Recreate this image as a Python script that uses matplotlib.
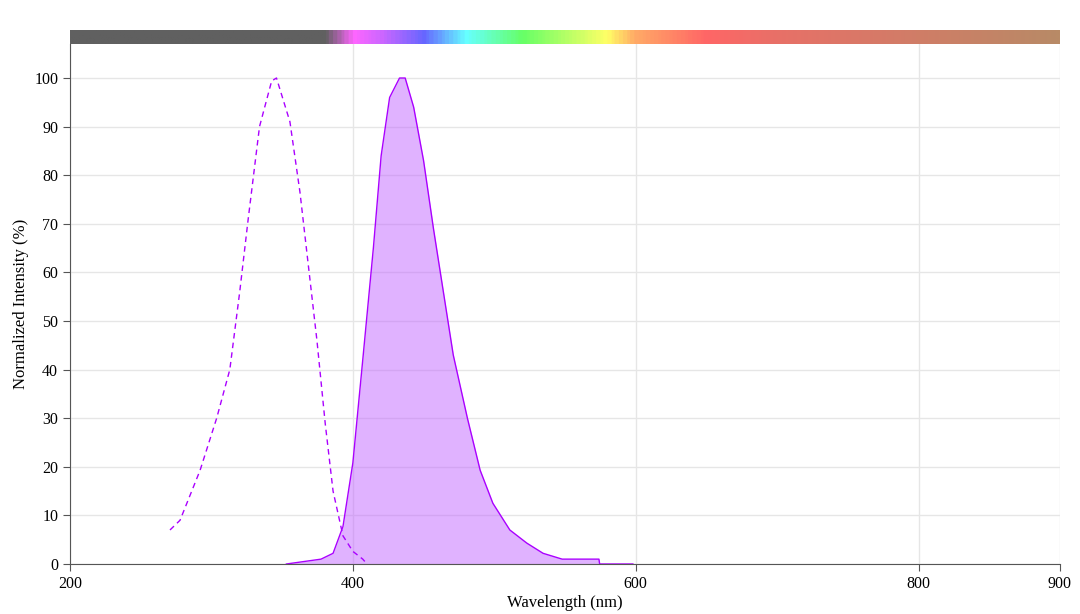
import numpy as np
import matplotlib
matplotlib.use("Agg")
import matplotlib.pyplot as plt
from matplotlib.colors import LinearSegmentedColormap

plt.rcParams["font.family"] = ["Liberation Serif", "DejaVu Serif"]

# excitation spectrum (dashed)
ex_nm = [270.7, 277.8, 292, 303.7, 313, 320, 326, 334, 342.6, 346, 355.5, 362.6,
         368.5, 374.6, 380.5, 386, 393, 400, 407, 410]
ex_val = [7, 9, 19.3, 30, 40, 56, 71, 90, 99.4, 100, 91, 76.5,
          61.5, 46, 28.8, 15, 5.8, 2.6, 1, 0]

# emission spectrum (filled)
em_nm = [353, 377.5, 386, 393, 400, 407, 414.5, 420, 426, 433, 437, 443, 450, 457,
         464, 471, 481, 490, 499, 511, 523, 534.5, 548, 574, 574.5, 598]
em_val = [0, 1, 2.2, 7.7, 20.8, 42, 65, 84, 96, 100, 100, 94, 83, 69,
          56, 43, 30, 19.3, 12.5, 7, 4.3, 2.2, 1, 1, 0, 0]

# wavelength colour bar stops
bar_nm = [200, 380, 400, 420, 450, 480, 520, 580, 600, 650, 700, 900]
bar_col = ["#606060", "#606060", "#ff66ff", "#cc66ff", "#6666ff", "#66ffff",
           "#66ff66", "#ffff66", "#ffaa66", "#ff6666", "#e87068", "#b88a66"]

purple = "#aa00ff"
fig = plt.figure(figsize=(10.8, 6.14), dpi=100)
ax = fig.add_axes([70 / 1080, 50 / 614, 990 / 1080, 520 / 614])
ax.fill_between(em_nm, em_val, color="#c266ff", alpha=0.5, lw=0)
ax.plot(em_nm, em_val, color=purple, lw=1)
ax.plot(ex_nm, ex_val, color=purple, lw=1, ls=(0, (4, 3)))

ax.set_xlim(200, 900)
ax.set_ylim(0, 107)
ax.set_xticks([200, 400, 600, 800, 900])
ax.set_yticks(range(0, 101, 10))
ax.grid(color="#e6e6e6", lw=1)
ax.set_axisbelow(True)
for s in ["top", "right"]:
    ax.spines[s].set_visible(False)
for s in ["left", "bottom"]:
    ax.spines[s].set_color("#555555")
ax.tick_params(labelsize=11.5, length=5, color="#555555")
ax.set_xlabel("Wavelength (nm)", fontsize=12, labelpad=2)
ax.set_ylabel("Normalized Intensity (%)", fontsize=12)

cax = fig.add_axes([70 / 1080, 570 / 614, 990 / 1080, 14 / 614])
pos = [(n - 200) / 700 for n in bar_nm]
cmap = LinearSegmentedColormap.from_list("spec", list(zip(pos, bar_col)))
cax.imshow(np.linspace(0, 1, 700)[None, :], aspect="auto", cmap=cmap,
           extent=[200, 900, 0, 1])
cax.axis("off")

fig.savefig("out.png", dpi=100)
